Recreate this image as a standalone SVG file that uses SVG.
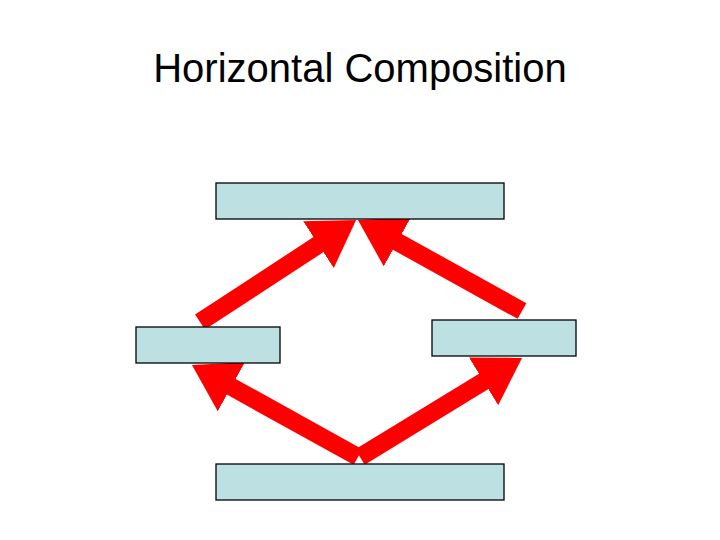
<svg xmlns="http://www.w3.org/2000/svg" width="720" height="540" viewBox="0 0 720 540">
<style>
.box{fill:#bde0e3;stroke:#000;stroke-width:1.3}
.arr{stroke:#f00;stroke-width:18;fill:none;marker-end:url(#ah)}
</style>
<defs>
<marker id="ah" markerUnits="userSpaceOnUse" markerWidth="50" markerHeight="60" refX="15" refY="28" orient="auto">
<path d="M0,0 L45,28 L0,56 z" fill="#f00"/>
</marker>
</defs>
<rect width="720" height="540" fill="#fff"/>
<text x="360" y="82" text-anchor="middle" font-family="Liberation Sans, Arial, sans-serif" font-size="40">Horizontal Composition</text>
<g id="connectors">
<line class="arr" x1="200" y1="322" x2="331" y2="236.4"/>
<line class="arr" x1="522" y1="311" x2="384.2" y2="234.6"/>
<line class="arr" x1="358" y1="457" x2="218.2" y2="379.5"/>
<line class="arr" x1="360" y1="457" x2="496.4" y2="373.6"/>
</g>
<g id="top"><rect class="box" x="216" y="183" width="288" height="36"/></g>
<g id="left"><rect class="box" x="136" y="327" width="144" height="36"/></g>
<g id="right"><rect class="box" x="432" y="320" width="144" height="36"/></g>
<g id="bottom"><rect class="box" x="216" y="464" width="288" height="36"/></g>
</svg>
